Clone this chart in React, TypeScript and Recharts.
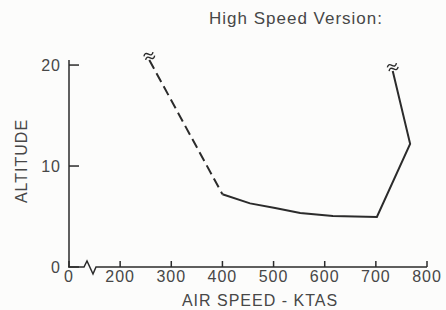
import { Line, LineChart, ReferenceLine, XAxis, YAxis } from "recharts";

// Values. The x axis is broken: the "0" label
// sits where 100 kt would fall, so the domain starts at 100.
const X_TICKS = [100, 200, 300, 400, 500, 600, 700, 800];
const X_TICK_LABELS = ["0", "200", "300", "400", "500", "600", "700", "800"];
const Y_TICKS = [0, 10, 20];

// dashed (estimated) low speed leg
const DASHED_KTAS = [257, 400];
const DASHED_ALT = [20.5, 7.2];

// solid leg: curve along the bottom then up the right side
const SOLID_KTAS = [400, 454, 503, 552, 616, 702, 767, 733];
const SOLID_ALT = [7.2, 6.3, 5.85, 5.35, 5.05, 4.95, 12.2, 19.4];

const dashedData = DASHED_KTAS.map((x, i) => ({ x, y: DASHED_ALT[i] }));
const solidData = SOLID_KTAS.map((x, i) => ({ x, y: SOLID_ALT[i] }));

const INK = "#2b2b2b";
const TEXT = "#474747";
const FONT = '"Liberation Sans", Arial, Helvetica, sans-serif';

// little "≈" break mark drawn at the open end of a line
function BreakMark({ cx, cy }: { cx: number; cy: number }) {
  const y = cy - 4;
  const wave = (yy: number) =>
    `M${cx - 5},${yy} Q${cx - 2.5},${yy - 3.5} ${cx},${yy} Q${cx + 2.5},${yy + 3.5} ${cx + 5},${yy}`;
  return (
    <g transform={`rotate(-25 ${cx} ${y})`}>
      <path d={wave(y - 2)} fill="none" stroke={INK} strokeWidth={1.4} />
      <path d={wave(y + 2)} fill="none" stroke={INK} strokeWidth={1.4} />
    </g>
  );
}

function endMark(at: number) {
  return (p: any) =>
    p.index === at ? (
      <BreakMark key={`b${p.index}`} cx={p.cx} cy={p.cy} />
    ) : (
      <g key={`d${p.index}`} />
    );
}

// x axis line with the zigzag break just right of the origin
function BrokenAxis(props: any) {
  const { x1, x2, y1 } = props;
  const d = `M${x1 - 1},${y1} L${x1 + 15},${y1} L${x1 + 18},${y1 - 6} L${x1 + 24},${y1 + 7} L${x1 + 27},${y1} L${x2},${y1}`;
  return <path d={d} fill="none" stroke={INK} strokeWidth={1.5} />;
}

const tickStyle = { fill: TEXT, fontSize: 16, fontFamily: FONT, letterSpacing: 1 };

export default function App() {
  return (
    <div
      style={{
        position: "absolute",
        left: 0,
        top: 0,
        width: 446,
        height: 310,
        background: "#fcfcfb",
      }}
    >
      <LineChart
        width={446}
        height={310}
        margin={{ top: 60, right: 19, bottom: 13, left: 29 }}
      >
        <XAxis
          type="number"
          dataKey="x"
          domain={[100, 800]}
          ticks={X_TICKS}
          tickFormatter={(v: number) => X_TICK_LABELS[X_TICKS.indexOf(v)]}
          axisLine={false}
          tickSize={-6}
          tickMargin={10}
          tickLine={{ stroke: INK, strokeWidth: 1.5 }}
          tick={tickStyle}
          height={30}
          interval={0}
        />
        <YAxis
          type="number"
          domain={[0, 20.5]}
          ticks={Y_TICKS}
          width={40}
          axisLine={{ stroke: INK, strokeWidth: 1.5 }}
          tickLine={{ stroke: INK, strokeWidth: 1.5 }}
          tickSize={-10}
          tickMargin={18}
          tick={tickStyle}
          interval={0}
        />
        <ReferenceLine y={0} shape={BrokenAxis} />
        <Line
          data={dashedData}
          dataKey="y"
          type="linear"
          stroke={INK}
          strokeWidth={2}
          strokeDasharray="10 5"
          dot={endMark(0)}
          activeDot={false}
          isAnimationActive={false}
        />
        <Line
          data={solidData}
          dataKey="y"
          type="linear"
          stroke={INK}
          strokeWidth={2}
          dot={endMark(SOLID_KTAS.length - 1)}
          activeDot={false}
          isAnimationActive={false}
        />
      </LineChart>
      <svg
        width={446}
        height={310}
        style={{ position: "absolute", left: 0, top: 0, pointerEvents: "none" }}
      >
        <text x={209} y={24} fill={TEXT} fontSize={17} fontFamily={FONT} letterSpacing={1}>
          High Speed Version:
        </text>
        <text
          x={27}
          y={161}
          transform="rotate(-90 27 161)"
          textAnchor="middle"
          fill={TEXT}
          fontSize={16}
          fontFamily={FONT}
          letterSpacing={1}
        >
          ALTITUDE
        </text>
        <text
          x={260}
          y={306}
          textAnchor="middle"
          fill={TEXT}
          fontSize={16}
          fontFamily={FONT}
          letterSpacing={1}
        >
          AIR SPEED - KTAS
        </text>
      </svg>
    </div>
  );
}
